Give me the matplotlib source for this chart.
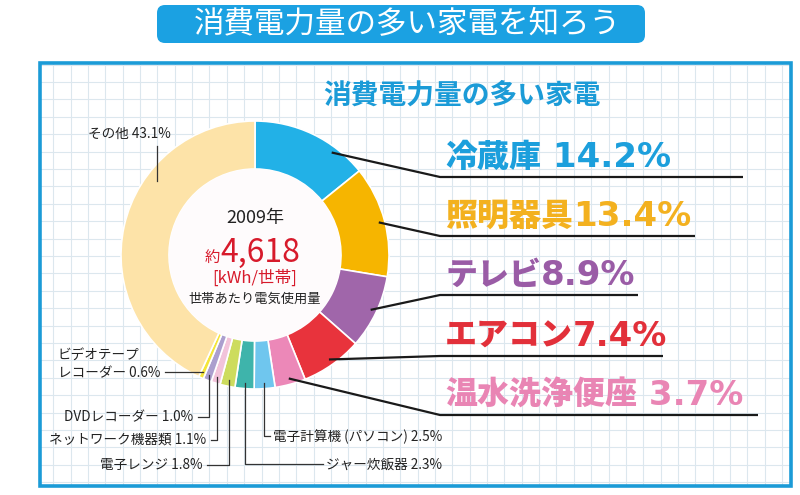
import numpy as np
import matplotlib.pyplot as plt
from matplotlib.patches import Circle, FancyBboxPatch, Rectangle

plt.rcParams['font.family'] = ['Noto Sans CJK JP', 'DejaVu Sans']

# 家電ごとの消費電力量の割合 (%)
names = ['冷蔵庫', '照明器具', 'テレビ', 'エアコン', '温水洗浄便座',
         '電子計算機 (パソコン)', 'ジャー炊飯器', '電子レンジ', 'ネットワーク機器類',
         'DVDレコーダー', 'ビデオテープ\nレコーダー', 'その他']
shares = [14.2, 13.4, 8.9, 7.4, 3.7, 2.5, 2.3, 1.8, 1.1, 1.0, 0.6, 43.1]
colors = ['#22b1e7', '#f6b500', '#a066aa', '#e8333c', '#ec88b8', '#6fc6ee',
          '#3eb4ab', '#cddc5e', '#f2c3da', '#ab9fce', '#f4e53a', '#fde3a8']
text_colors = ['#1c9fdc', '#f3b11f', '#9a5ca6', '#e2303a', '#e985b4']

title = '消費電力量の多い家電を知ろう'
subtitle = '消費電力量の多い家電'
year = '2009年'
total = '4,618'
unit = '[kWh/世帯]'
caption = '世帯あたり電気使用量'

W, H = 800, 495
cx, cy, R, ring = 255, 255, 134, 48

fig = plt.figure(figsize=(8, 4.95), dpi=100)
ax = fig.add_axes([0, 0, 1, 1])
ax.axis('off')

# 方眼の背景と枠
gx = np.arange(53.3, 790, 17.35)
gy = np.arange(64.5, 486, 17.4)
ax.vlines(gx, 63, 486, color='#dce7ee', lw=0.8, zorder=0)
ax.hlines(gy, 40, 791, color='#dce7ee', lw=0.8, zorder=0)
ax.add_patch(Rectangle((40, 63), 751, 423, fill=False, ec='#1b9bd7', lw=2.6, zorder=1))

# タイトル帯
ax.add_patch(FancyBboxPatch((157, 5), 488, 38, boxstyle='round,pad=0,rounding_size=8',
                            fc='#1ba1e2', ec='none', zorder=1))
ax.text(407, 25, title, color='white', fontsize=22, ha='center', va='center', zorder=2)
ax.text(462, 96, subtitle, color='#1b9bd7', fontsize=20, fontweight='bold',
        ha='center', va='center', zorder=2)

# ドーナツ
ax.pie(shares, colors=colors, radius=R, center=(cx, cy), startangle=-90,
       counterclock=True, frame=True,
       wedgeprops=dict(width=ring, edgecolor='white', linewidth=1.2, zorder=2))
ax.add_patch(Circle((cx, cy), R - ring, fc='#fefbfc', ec='none', zorder=2))

start = np.cumsum(shares) - np.array(shares)


def ring_point(i, frac=0.5, r=128):
    th = np.radians((start[i] + shares[i] * frac) / 100 * 360)
    return cx + r * np.sin(th), cy - r * np.cos(th)


# 中央の文字
ax.text(cx, 218, year, fontsize=13, color='#222222', ha='center', va='center', zorder=3)
t_num = ax.text(cx + 5, 262, total, fontsize=23, color='#d71a2b', ha='center',
                va='baseline', zorder=3)
ax.annotate('約', xy=(0, 262), xycoords=(t_num, 'data'), fontsize=11,
            color='#d71a2b', ha='right', va='baseline', zorder=3)
ax.text(cx, 278, unit, fontsize=12, color='#d71a2b', ha='center', va='center', zorder=3)
ax.text(cx, 299, caption, fontsize=9.5, color='#222222', ha='center', va='center', zorder=3)

# 上位5つ（右側の大きなラベル）
line_y = [177, 236, 295, 356, 415]
line_end = [743, 695, 638, 663, 758]
lead_frac = [0.72, 0.5, 0.5, 0.5, 0.5]
gap = [' ', '', '', '', ' ']
for i in range(5):
    px, py = ring_point(i, lead_frac[i])
    ax.plot([px, 440, line_end[i]], [py, line_y[i], line_y[i]], color='#1a1a1a',
            lw=1.6, solid_capstyle='butt', zorder=4)
    t = ax.text(445, line_y[i] - 10, names[i], fontsize=23, fontweight='heavy',
                color=text_colors[i], ha='left', va='baseline', zorder=3)
    ax.annotate(gap[i] + f'{shares[i]}%', xy=(1, line_y[i] - 10), xycoords=(t, 'data'),
                fontsize=24.5, fontweight='bold', family='DejaVu Sans',
                color=text_colors[i], ha='left', va='baseline', zorder=3)

# 小さなラベル
small = dict(fontsize=9.8, color='#222222', zorder=3)
lc = dict(color='#333333', lw=0.9, zorder=4)

# 電子計算機, ジャー炊飯器 (右へ)
for i, ly, lx in [(5, 436, 270), (6, 464, 323)]:
    px, py = ring_point(i)
    ax.plot([px, px, lx], [py, ly, ly], **lc)
    ax.text(lx + 3, ly + 1, f'{names[i]} {shares[i]}%', ha='left', va='center', **small)

# 電子レンジ, ネットワーク, DVD (左へ)
for i, ly, lx in [(7, 465, 207), (8, 440, 211), (9, 417, 198)]:
    px, py = ring_point(i)
    ax.plot([px, px, lx], [py, ly, ly], **lc)
    ax.text(lx - 5, ly, f'{names[i]} {shares[i]}%', ha='right', va='center', **small)

# ビデオテープレコーダー
px, py = ring_point(10)
ax.plot([px, 165], [py, py], **lc)
ax.text(160, py - 8, f'{names[10]} {shares[10]}%', ha='right', va='center',
        multialignment='left', linespacing=1.35, **small)

# その他
px, py = ring_point(11, 0.66, 123)
ax.plot([px, px], [py, 146], **lc)
ax.text(129, 134, f'{names[11]} {shares[11]}%', ha='center', va='center', **small)

ax.set_aspect('auto')
ax.set_xlim(0, W)
ax.set_ylim(H, 0)
fig.savefig('out.png', dpi=100)
